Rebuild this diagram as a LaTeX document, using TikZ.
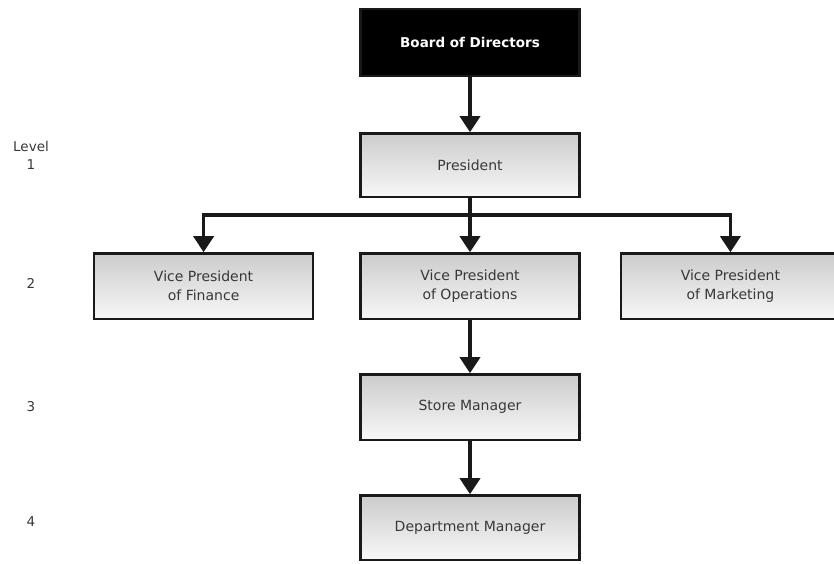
\documentclass[tikz,border=0pt]{standalone}
\usepackage{fontspec}
\setmainfont{DejaVu Sans}
\usetikzlibrary{arrows.meta, positioning}

\definecolor{txtgray}{HTML}{383838}

\begin{document}
\begin{tikzpicture}[
    x=1pt, y=-1pt,
    % Node styles
    box/.style={
        rectangle, draw=black!90, line width=2.4pt,
        top color=black!20, bottom color=black!3,
        minimum width=219pt, minimum height=63.6pt,
        align=center, text=txtgray,
        font=\fontsize{14}{19}\selectfont
    },
    vpbox/.style={box, minimum height=65.6pt},
    topbox/.style={
        box, fill=black, top color=black, bottom color=black,
        minimum height=67pt, text=white,
        font=\fontsize{13.5}{19}\selectfont\bfseries
    },
    arr/.style={
        -{Triangle[length=16pt, width=20pt]}, line width=3.6pt, color=black!90
    },
    level/.style={font=\fontsize{13.5}{18}\selectfont, text=txtgray, align=center},
]

\useasboundingbox (0,0) rectangle (834,563);

% Top of the chart
\node[topbox] (board) at (470,42.5) {Board of Directors};
\node[box, below=55pt of board] (pres) {President};

% Level 2
\node[vpbox, below=54pt of pres] (ops) {Vice President\\of Operations};
\node[vpbox, left=45pt of ops] (fin) {Vice President\\of Finance};
\node[vpbox, right=39pt of ops] (mkt) {Vice President\\of Marketing};

% Levels 3 and 4
\node[vpbox, below=53pt of ops] (store) {Store Manager};
\node[box, minimum height=64.6pt, below=53pt of store] (dept) {Department Manager};

% Arrows
\draw[arr] (board) -- (pres);
\draw[arr] (pres) -- (ops);
\draw[arr] (pres.south) -- ++(0,17) -| (fin.north);
\draw[arr] (pres.south) -- ++(0,17) -| (mkt.north);
\draw[arr] (ops) -- (store);
\draw[arr] (store) -- (dept);

% Level labels
\node[level] (lvl1) at (31,155) {Level\\1};
\node[level] (lvl2) at (31,283) {2};
\node[level] (lvl3) at (31,407) {3};
\node[level] (lvl4) at (31,522) {4};

\end{tikzpicture}
\end{document}
